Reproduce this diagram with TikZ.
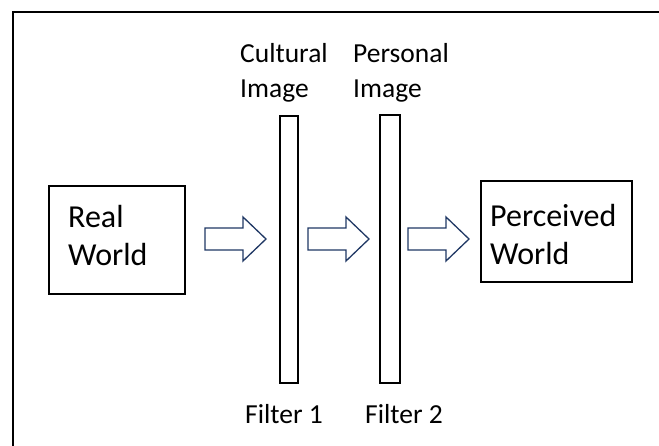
\documentclass[tikz,border=0pt]{standalone}
\usepackage{fontspec}
\setmainfont{Carlito}
\begin{document}
\begin{tikzpicture}[x=1pt,y=-1pt,
  framebox/.style={draw=black,line width=1.8pt},
  worldbox/.style={draw=black,line width=1.8pt,rectangle,inner sep=0pt,anchor=north west},
  filterbar/.style={draw=black,line width=1.6pt,rectangle,inner sep=0pt,anchor=north west,minimum height=267pt},
  boxtext/.style={anchor=base west,inner sep=0pt,align=left,font=\fontsize{32}{38}\selectfont},
  labeltext/.style={anchor=base west,inner sep=0pt,align=left,font=\fontsize{27.5}{35}\selectfont},
  blockarrow/.style={draw=arrowblue,line width=1.3pt,line join=miter,fill=white}
]
\definecolor{arrowblue}{HTML}{203864}
\useasboundingbox (0,0) rectangle (659,445);
\fill[white] (0,0) rectangle (659,445);

% outer frame, running off the right and bottom edges
\draw[framebox] (13,12) rectangle (680,470);

% the two worlds (text placed by the baseline of its last line)
\node[worldbox,minimum width=136pt,minimum height=108pt] (real) at (48,185) {};
\node[worldbox,minimum width=151pt,minimum height=101pt] (perceived) at (480,180) {};
\node[boxtext] (realtxt) at (68,265) {Real\\World};
\node[boxtext] (perceivedtxt) at (490,264) {Perceived\\World};

% the two filters
\node[filterbar,minimum width=18pt] (filter1) at (279,115) {};
\node[filterbar,minimum width=20pt,minimum height=268pt] (filter2) at (379,114) {};
\node[labeltext] (cultural) at (240,97) {Cultural\\Image};
\node[labeltext] (personal) at (353,97) {Personal\\Image};
\node[labeltext] (f1label) at (245,423) {Filter 1};
\node[labeltext] (f2label) at (365,423) {Filter 2};

% block arrows between the stages
\coordinate (a1) at (205,239);
\coordinate (a2) at (308,239);
\coordinate (a3) at (408,239);
\foreach \c in {a1,a2,a3}{
  \draw[blockarrow,shift={(\c)}] (0,-11) -- (38,-11) -- (38,-22) -- (61,0)
    -- (38,22) -- (38,11) -- (0,11) -- cycle;
}
\end{tikzpicture}
\end{document}
